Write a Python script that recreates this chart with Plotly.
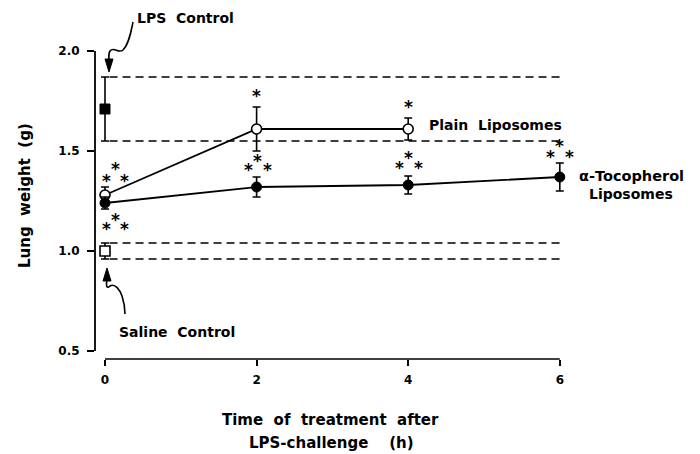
import plotly.graph_objects as go

# ---------------- data ----------------
time_h = [0, 2, 4, 6]
plain_x = [0, 2, 4]
plain_y = [1.28, 1.61, 1.61]
plain_err = [0.04, 0.11, 0.055]
toco_x = [0, 2, 4, 6]
toco_y = [1.24, 1.32, 1.33, 1.37]
toco_err = [0.03, 0.05, 0.045, 0.07]
lps_y = 1.71
lps_err = 0.16
saline_y = 1.00
saline_err = 0.04
y_ticks = [0.5, 1.0, 1.5, 2.0]
y_ticktext = ["0.5", "1.0", "1.5", "2.0"]
x_ticktext = ["0", "2", "4", "6"]

# ---------------- layout constants ----------------
W, H = 700, 454
X0PX, XPU = 105, 75.8      # pixel of t=0 and pixels per hour
Y2PX, YPU = 51, 200        # pixel of 2.0 g and pixels per gram
PLOT_L, PLOT_R, PLOT_T, PLOT_B = 95, 690, 5, 359
FONT = "DejaVu Sans"


def dx(px):
    return (px - X0PX) / XPU


def dy(py):
    return 2.0 - (py - Y2PX) / YPU


def pxp(px):
    return (px - PLOT_L) / (PLOT_R - PLOT_L)


def pyp(py):
    return (PLOT_B - py) / (PLOT_B - PLOT_T)


def to_px(xv, yv):
    return X0PX + xv * XPU, Y2PX + (2.0 - yv) * YPU


fig = go.Figure()

# dashed reference bands from controls (mean ± error)
for ref in [lps_y + lps_err, lps_y - lps_err, saline_y + saline_err, saline_y - saline_err]:
    fig.add_trace(go.Scatter(x=[0.06, time_h[-1]], y=[ref, ref], mode="lines",
                             line=dict(color="black", width=1.6, dash="8px,5px"),
                             hoverinfo="skip", showlegend=False))

ebar = dict(type="data", thickness=1.6, width=4, color="black")

fig.add_trace(go.Scatter(x=plain_x, y=plain_y, mode="lines+markers",
                         error_y=dict(array=plain_err, **ebar),
                         line=dict(color="black", width=1.8),
                         marker=dict(symbol="circle", size=10, color="white",
                                     line=dict(color="black", width=1.6)),
                         showlegend=False))
fig.add_trace(go.Scatter(x=toco_x, y=toco_y, mode="lines+markers",
                         error_y=dict(array=toco_err, **ebar),
                         line=dict(color="black", width=1.8),
                         marker=dict(symbol="circle", size=10, color="black",
                                     line=dict(color="black", width=1)),
                         showlegend=False))
fig.add_trace(go.Scatter(x=[0], y=[lps_y], mode="markers",
                         error_y=dict(array=[lps_err], **ebar),
                         marker=dict(symbol="square", size=10, color="black",
                                     line=dict(color="black", width=1)),
                         showlegend=False))
fig.add_trace(go.Scatter(x=[0], y=[saline_y], mode="markers",
                         error_y=dict(array=[saline_err], **ebar),
                         marker=dict(symbol="square", size=10, color="white",
                                     line=dict(color="black", width=1.6)),
                         showlegend=False))

shapes = []
# y axis line 0.5 .. 2.0
shapes.append(dict(type="line", xref="paper", yref="y", x0=0, x1=0,
                   y0=y_ticks[0], y1=y_ticks[-1], line=dict(color="black", width=1.8)))
# x axis line 0 .. 6
shapes.append(dict(type="line", xref="x", yref="paper", x0=time_h[0], x1=time_h[-1],
                   y0=0, y1=0, line=dict(color="black", width=1.6)))


def path_from_px(points, close=False, curve=False):
    pts = [(dx(a), dy(b)) for a, b in points]
    if curve:
        s = "M %f,%f" % pts[0]
        for i in range(1, len(pts) - 2, 3):
            s += " C %f,%f %f,%f %f,%f" % (pts[i] + pts[i + 1] + pts[i + 2])
        return s
    s = "M " + " L ".join("%f,%f" % p for p in pts)
    if close:
        s += " Z"
    return s


# LPS squiggly arrow
lps_curve = [(133, 22), (131, 32), (129, 44), (123, 50),
             (118, 54), (114, 46), (110, 51),
             (108, 54), (109, 58), (109, 60)]
shapes.append(dict(type="path", xref="x", yref="y", path=path_from_px(lps_curve, curve=True),
                   line=dict(color="black", width=1.6)))
shapes.append(dict(type="path", xref="x", yref="y",
                   path=path_from_px([(105, 59), (113, 59), (109, 72)], close=True),
                   fillcolor="black", line=dict(color="black", width=1)))
# Saline squiggly arrow
sal_curve = [(107, 280), (106, 284), (106, 290), (110, 286),
             (115, 283), (120, 290), (122, 296),
             (124, 302), (125, 308), (125, 314)]
shapes.append(dict(type="path", xref="x", yref="y", path=path_from_px(sal_curve, curve=True),
                   line=dict(color="black", width=1.6)))
shapes.append(dict(type="path", xref="x", yref="y",
                   path=path_from_px([(103, 281), (111, 281), (107, 268)], close=True),
                   fillcolor="black", line=dict(color="black", width=1)))

ann = []
tf = dict(family=FONT, size=14, color="black", weight="bold")


def text_px(txt, px, py, xanchor="left", font=tf, **kw):
    ann.append(dict(text=txt, x=pxp(px), y=pyp(py), xref="paper", yref="paper",
                    showarrow=False, xanchor=xanchor, yanchor="middle", font=font, **kw))


text_px("LPS  Control", 135, 18)
text_px("Saline  Control", 117, 332)
text_px("Plain  Liposomes", 427, 125)
tf15 = dict(family=FONT, size=14.5, color="black", weight="bold")
text_px("α-Tocopherol", 631, 176, xanchor="center", font=tf15)
text_px("Liposomes", 631, 194, xanchor="center")

title_f = dict(family=FONT, size=15, color="black", weight="bold")
text_px("Time  of  treatment  after", 330, 420, xanchor="center", font=title_f)
text_px("LPS-challenge    (h)", 331, 443, xanchor="center", font=title_f)
text_px("Lung  weight  (g)", 25, 196, xanchor="center",
        font=dict(family=FONT, size=15, color="black", weight="bold"), textangle=-90)

# significance stars: offsets (pixels) relative to the data point
star_f = dict(family=FONT, size=17, color="black", weight="bold")
STAR_DY = 1  # glyph sits slightly high in its box
sig_marks = [
    (plain_x[0], plain_y[0], [(1, -15), (10, -27), (19, -15)]),
    (toco_x[0], toco_y[0], [(1, 25), (10, 16), (19, 25)]),
    (plain_x[1], plain_y[1], [(0, -34)]),
    (plain_x[2], plain_y[2], [(0, -23)]),
    (toco_x[1], toco_y[1], [(-8, -18), (1, -27), (11, -18)]),
    (toco_x[2], toco_y[2], [(-9, -18), (0, -28), (10, -18)]),
    (toco_x[3], toco_y[3], [(-9, -21), (0, -32), (10, -21)]),
]
for xv, yv, offs in sig_marks:
    px, py = to_px(xv, yv)
    for ox, oy in offs:
        text_px("*", px + ox, py + oy + STAR_DY, xanchor="center", font=star_f, borderpad=0)

fig.update_layout(
    width=W, height=H,
    margin=dict(l=PLOT_L, r=W - PLOT_R, t=PLOT_T, b=H - PLOT_B, pad=0),
    plot_bgcolor="white", paper_bgcolor="white",
    shapes=shapes, annotations=ann, showlegend=False,
    xaxis=dict(range=[dx(PLOT_L), dx(PLOT_R)], tickvals=time_h, ticktext=x_ticktext,
               showline=False, showgrid=False, zeroline=False,
               ticks="outside", ticklen=6, tickwidth=1.5, tickcolor="black",
               ticklabelstandoff=4,
               tickfont=dict(family=FONT, size=12, color="black", weight="bold")),
    yaxis=dict(range=[dy(PLOT_B), dy(PLOT_T)], tickvals=y_ticks, ticktext=y_ticktext,
               showline=False, showgrid=False, zeroline=False,
               ticks="outside", ticklen=7, tickwidth=1.8, tickcolor="black",
               ticklabelstandoff=5,
               tickfont=dict(family=FONT, size=12, color="black", weight="bold")),
)

fig.write_html("out.html", config={"displayModeBar": False},
               post_script="document.body.style.margin='0';")
